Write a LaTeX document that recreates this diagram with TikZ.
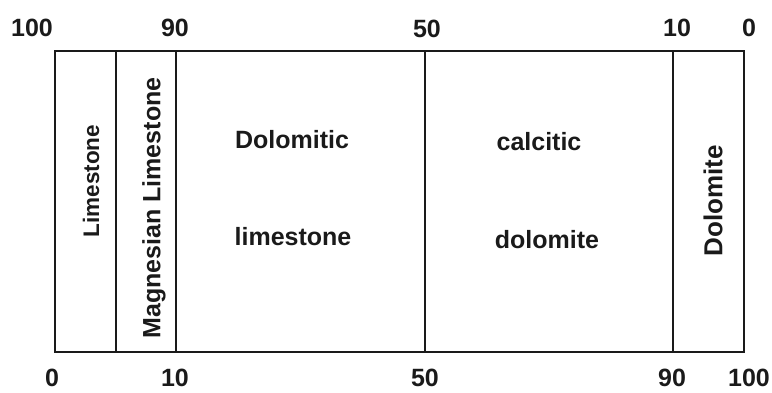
\documentclass[tikz,border=0pt]{standalone}
\usepackage{fontspec}
\setmainfont{Liberation Sans}
\definecolor{ink}{HTML}{1A1A1A}
\begin{document}
\begin{tikzpicture}[x=1pt,y=-1pt,
  frame/.style={draw=ink,line width=1.8pt},
  divider/.style={draw=ink,line width=1.6pt},
  num/.style={anchor=base,inner sep=0pt,text=ink,text depth=0pt,font=\bfseries\fontsize{25}{30}\selectfont},
  lab/.style={anchor=base,inner sep=0pt,text=ink,font=\bfseries\fontsize{25}{30}\selectfont},
  vlab/.style={rotate=90,inner sep=0pt,text=ink,font=\bfseries\fontsize{#1}{30}\selectfont}]
\useasboundingbox (0,0) rectangle (772,392);
% frame
\coordinate (tl) at (55,51);
\coordinate (br) at (744,352);
\draw[frame] (tl) rectangle (br);
% dividers
\coordinate (a1) at (116,51); \coordinate (a2) at (116,352);
\coordinate (b1) at (176,51); \coordinate (b2) at (176,352);
\coordinate (c1) at (425,51); \coordinate (c2) at (425,352);
\coordinate (d1) at (673,51); \coordinate (d2) at (673,352);
\draw[divider] (a1) -- (a2);
\draw[divider] (b1) -- (b2);
\draw[divider] (c1) -- (c2);
\draw[divider] (d1) -- (d2);
% top scale
\node[num] (t100) at (32,36) {100};
\node[num] (t90) at (175,36) {90};
\node[num] (t50) at (427,37) {50};
\node[num] (t10) at (677,36) {10};
\node[num] (t0) at (749,36) {0};
% bottom scale
\node[num] (b0) at (52,386) {0};
\node[num] (b10) at (175,386) {10};
\node[num] (b50) at (425,386) {50};
\node[num] (b90) at (672,386) {90};
\node[num] (b100) at (749,386) {100};
% interior labels
\node[lab] (dolomitic) at (292,148) {Dolomitic};
\node[lab] (limestone) at (293,245) {limestone};
\node[lab] (calcitic) at (539,150) {calcitic};
\node[lab] (dolomite) at (547,248) {dolomite};
% vertical labels
\node[vlab=22.5] (vlime) at (91,181) {Limestone};
\node[vlab=25] (vmag) at (154,208) {Magnesian Limestone};
\node[vlab=26] (vdol) at (713,201) {Dolomite};
\end{tikzpicture}
\end{document}
